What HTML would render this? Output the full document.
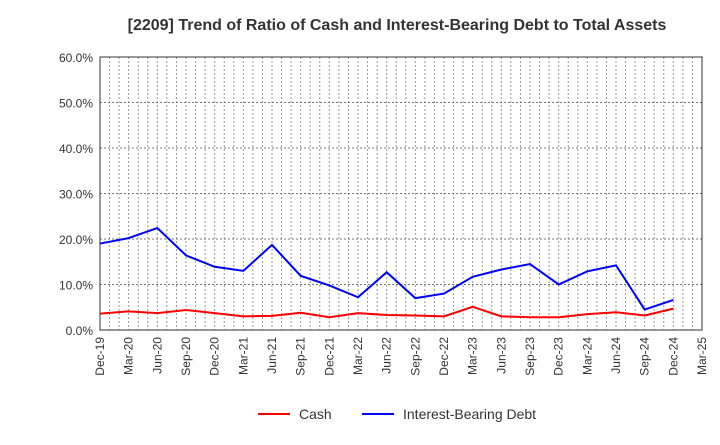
<!DOCTYPE html>
<html><head><meta charset="utf-8"><style>
body{margin:0;background:#fff;font-family:"Liberation Sans",sans-serif}
svg text{font-family:"Liberation Sans",sans-serif}
</style></head><body>
<svg id="chart" width="720" height="440">
<text x="397" y="30" text-anchor="middle" font-size="16" font-weight="bold" fill="#333">[2209]  Trend of Ratio of Cash and Interest-Bearing Debt to Total Assets</text>
<g id="grid"></g><g id="axes"></g><g id="series"></g>
<g>
<line x1="258" y1="414" x2="290" y2="414" stroke="#f00" stroke-width="2"/>
<text x="299" y="419" font-size="14" fill="#333">Cash</text>
<line x1="362" y1="414" x2="394" y2="414" stroke="#00f" stroke-width="2"/>
<text x="403" y="419" font-size="14" fill="#333">Interest-Bearing Debt</text>
</g>
</svg>
<script>
const labels=["Dec-19","Mar-20","Jun-20","Sep-20","Dec-20","Mar-21","Jun-21","Sep-21","Dec-21","Mar-22","Jun-22","Sep-22","Dec-22","Mar-23","Jun-23","Sep-23","Dec-23","Mar-24","Jun-24","Sep-24","Dec-24","Mar-25"];
const yTicks=[0,10,20,30,40,50,60];
const cash=[3.6,4.1,3.7,4.4,3.7,3.0,3.1,3.8,2.8,3.7,3.3,3.2,3.0,5.1,3.0,2.8,2.8,3.5,3.9,3.2,4.7];
const debt=[19.0,20.2,22.4,16.4,13.9,13.0,18.7,11.9,9.8,7.2,12.7,7.0,8.0,11.7,13.3,14.5,10.0,12.9,14.2,4.5,6.6];
const L=100,R=702,T=57,B=330,NS="http://www.w3.org/2000/svg";
const xs=i=>L+(R-L)*i/(labels.length-1);
const ys=v=>B-(B-T)*v/60;
function mk(t,a,p){const e=document.createElementNS(NS,t);for(const k in a)e.setAttribute(k,a[k]);p.appendChild(e);return e;}
const g=document.getElementById('grid'),ax=document.getElementById('axes'),s=document.getElementById('series');
for(let m=1;m<(labels.length-1)*3;m++){const x=L+(R-L)*m/((labels.length-1)*3);
const l=mk('line',{x1:x,x2:x,y1:T,y2:B,stroke:'#999','stroke-dasharray':'2,2'},g);
}
yTicks.forEach(v=>{const y=ys(v);
if(v>0){const l=mk('line',{x1:L,x2:R,y1:y,y2:y,stroke:'#777','stroke-dasharray':'2,2'},g);
}
const t=mk('text',{x:L-7,y:y+5,'text-anchor':'end','font-size':'12',fill:'#333'},ax);t.textContent=v.toFixed(1)+'%';
});
const fr=mk('rect',{x:L,y:T,width:R-L,height:B-T,fill:'none',stroke:'#333'},ax);

labels.forEach((lb,i)=>{const x=xs(i);
const t=mk('text',{x:x+4,y:B+7,'text-anchor':'end','font-size':'12',fill:'#333',transform:`rotate(-90 ${x+4} ${B+7})`},ax);t.textContent=lb;
});
[[cash,'#f00','cash-line'],[debt,'#00f','debt-line']].forEach(([d,c,n])=>{
const p=mk('polyline',{points:d.map((v,i)=>xs(i)+','+ys(v)).join(' '),fill:'none',stroke:c,'stroke-width':2},s);
});
</script>
</body></html>
